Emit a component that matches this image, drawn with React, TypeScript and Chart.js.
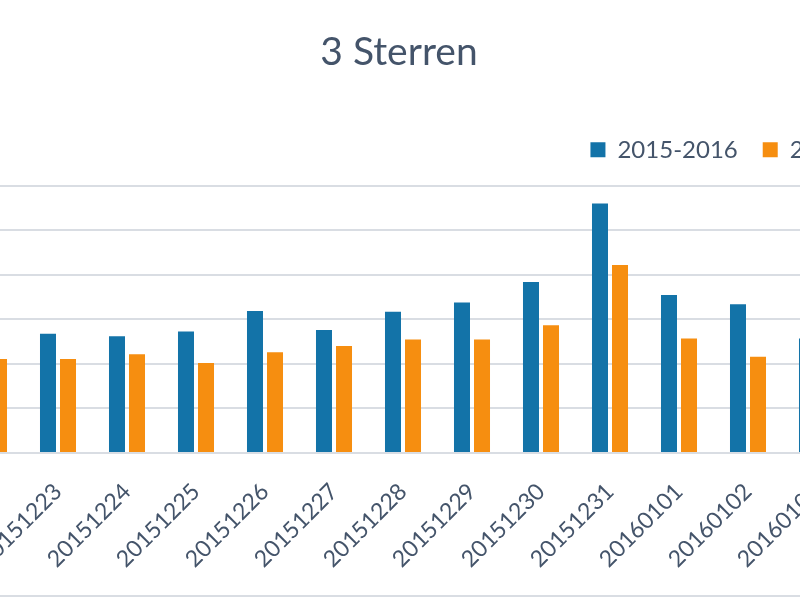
import React, { useEffect, useRef } from "react";
import { Chart, registerables } from "chart.js";
Chart.register(...registerables);

// categories (the outer two are only partly inside the crop)
const dates = [
  "20151222", "20151223", "20151224", "20151225", "20151226", "20151227",
  "20151228", "20151229", "20151230", "20151231", "20160101", "20160102", "20160103",
];
const seriesNames = ["2015-2016", "2014-2015"];
// values read against the gridlines (one gridline = 10)
const seasonA = [27, 26.8, 26.2, 27.3, 31.9, 27.6, 31.7, 33.8, 38.4, 56.0, 35.5, 33.4, 25.7];
const seasonB = [21.1, 21.1, 22.2, 20.2, 22.6, 24.0, 25.5, 25.5, 28.7, 42.2, 25.7, 21.6, 22];
const yMax = 60;
const yStep = 10;

const BLUE = "#1373a8";
const ORANGE = "#f68e10";
const TEXT = "#44546a";
const GRID = "#d9dde3";
const FONT = "Lato, 'Open Sans', sans-serif";

export default function App() {
  const canvasRef = useRef<HTMLCanvasElement | null>(null);

  useEffect(() => {
    if (!canvasRef.current) return;

    const chart = new Chart(canvasRef.current, {
      type: "bar",
      data: {
        labels: dates,
        datasets: [
          {
            label: seriesNames[0],
            data: seasonA,
            backgroundColor: BLUE,
            borderWidth: 0,
            categoryPercentage: 0.58,
            barPercentage: 0.8,
          },
          {
            label: seriesNames[1],
            data: seasonB,
            backgroundColor: ORANGE,
            borderWidth: 0,
            categoryPercentage: 0.58,
            barPercentage: 0.8,
          },
        ],
      },
      options: {
        animation: false,
        responsive: true,
        maintainAspectRatio: false,
        layout: { padding: 0 },
        plugins: {
          tooltip: { enabled: false },
          title: {
            display: true,
            text: "3 Sterren",
            color: TEXT,
            font: { family: FONT, size: 39, weight: "normal" },
            padding: { top: 29, bottom: 37 },
          },
          legend: {
            position: "top",
            align: "end",
            labels: {
              boxWidth: 15,
              boxHeight: 15,
              padding: 25,
              color: TEXT,
              font: { family: FONT, size: 24 },
            },
          },
        },
        scales: {
          x: {
            grid: { display: false },
            border: { display: true, color: GRID, width: 2 },
            ticks: {
              autoSkip: false,
              maxRotation: 45,
              minRotation: 45,
              padding: 17,
              color: TEXT,
              font: { family: FONT, size: 23 },
            },
            afterFit: (scale) => {
              scale.height = 147;
            },
          },
          // empty strip between legend and plot
          xTop: {
            type: "linear",
            axis: "x",
            position: "top",
            ticks: { display: false },
            grid: { display: false },
            border: { display: false },
            afterFit: (scale) => {
              scale.height = 14;
            },
          },
          y: {
            min: 0,
            max: yMax,
            ticks: { display: false, stepSize: yStep },
            grid: { color: GRID, lineWidth: 2, drawTicks: false },
            border: { display: false },
            afterFit: (scale) => {
              scale.width = 91.5;
            },
          },
          yRight: {
            position: "right",
            min: 0,
            max: yMax,
            ticks: { display: false },
            grid: { display: false },
            border: { display: false },
            afterFit: (scale) => {
              scale.width = 83.5;
            },
          },
        },
      },
    });

    return () => chart.destroy();
  }, []);

  return (
    <div
      style={{
        position: "fixed",
        left: 0,
        top: 0,
        width: 800,
        height: 600,
        overflow: "hidden",
        background: "#fff",
      }}
    >
      <div style={{ position: "absolute", left: -137, top: 0, width: 1072, height: 600 }}>
        <canvas ref={canvasRef} />
      </div>
      <div
        style={{ position: "absolute", left: 0, top: 595, width: 800, height: 2, background: GRID }}
      />
    </div>
  );
}
